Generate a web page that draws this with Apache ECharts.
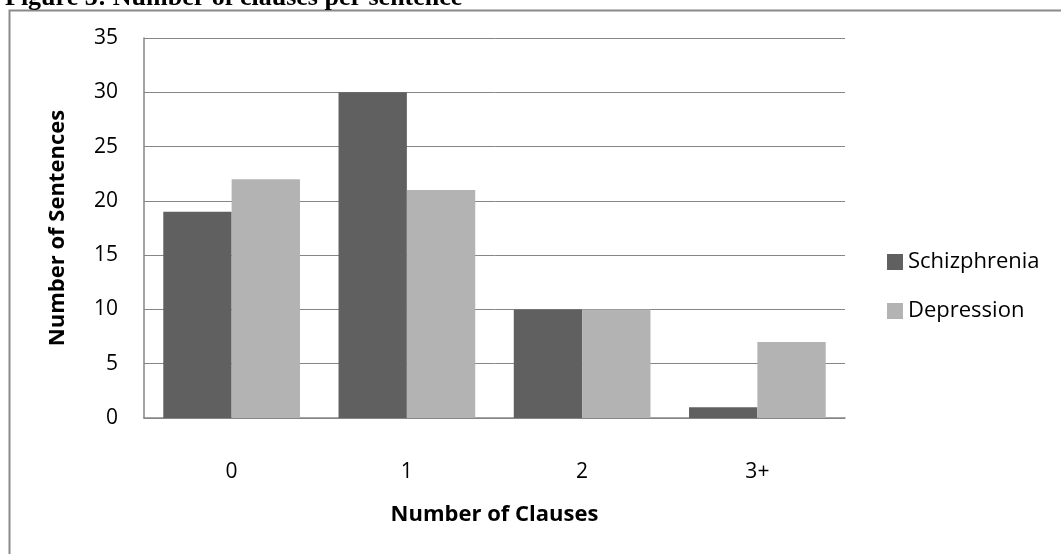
<!DOCTYPE html>
<html>
<head>
<meta charset="utf-8">
<script src="https://cdn.jsdelivr.net/npm/echarts@6/dist/echarts.min.js"></script>
<style>
html,body{margin:0;padding:0;background:#fff;}
#chart{width:1061px;height:554px;}
</style>
</head>
<body>
<div id="chart"></div>
<script>
const categories = ['0', '1', '2', '3+'];
const schizophrenia = [19, 30, 10, 1];
const depression = [22, 21, 10, 7];
const seriesNames = ['Schizphrenia', 'Depression'];
const yTicks = { min: 0, max: 35, interval: 5 };

const chart = echarts.init(document.getElementById('chart'));
const labelFont = 'Open Sans, Lato, sans-serif';
chart.setOption({
  animation: false,
  backgroundColor: '#fff',
  title: {
    text: 'Figure 3: Number of clauses per sentence',
    left: 0, top: -20,
    textStyle: { fontFamily: 'Liberation Serif', fontWeight: 'bold', fontSize: 26, color: '#000' }
  },
  graphic: [{
    type: 'rect', left: 7, top: 8,
    shape: { width: 1100, height: 600 },
    style: { fill: 'none', stroke: '#8a8a8a', lineWidth: 2 },
    z: -1
  }],
  grid: { left: 144, right: 216, top: 38, bottom: 136 },
  legend: {
    orient: 'vertical', left: 887, top: 251, padding: 0,
    itemWidth: 16, itemHeight: 16, itemGap: 27, icon: 'rect',
    textStyle: { fontFamily: labelFont, fontSize: 22, color: '#000' },
    data: seriesNames
  },
  xAxis: {
    type: 'category', data: categories,
    name: 'Number of Clauses', nameLocation: 'middle', nameGap: 86,
    nameTextStyle: { fontFamily: labelFont, fontWeight: 'bold', fontSize: 22, color: '#000' },
    axisLine: { lineStyle: { color: '#868686', width: 1.5 } },
    axisTick: { show: false },
    axisLabel: { fontFamily: labelFont, fontSize: 21, color: '#000', margin: 44 }
  },
  yAxis: {
    type: 'value', min: yTicks.min, max: yTicks.max, interval: yTicks.interval,
    name: 'Number of Sentences', nameLocation: 'middle', nameGap: 75, nameRotate: 90,
    nameTextStyle: { fontFamily: labelFont, fontWeight: 'bold', fontSize: 22, color: '#000' },
    axisLine: { show: true, lineStyle: { color: '#868686', width: 1.5 } },
    axisTick: { show: false },
    splitLine: { lineStyle: { color: '#868686', width: 1 } },
    axisLabel: { fontFamily: labelFont, fontSize: 21, color: '#000', margin: 26 }
  },
  series: [
    { name: seriesNames[0], type: 'bar', data: schizophrenia, itemStyle: { color: '#606060' }, barGap: '0%', barCategoryGap: '22%' },
    { name: seriesNames[1], type: 'bar', data: depression, itemStyle: { color: '#b3b3b3' }, barGap: '0%', barCategoryGap: '22%' }
  ]
});
</script>
</body>
</html>
